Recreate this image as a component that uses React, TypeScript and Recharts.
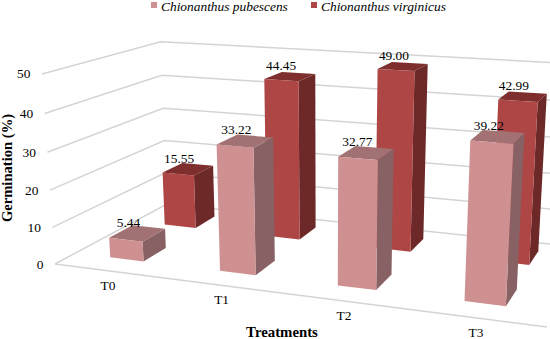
import { BarChart, Bar, XAxis, YAxis, CartesianGrid, Legend, LabelList } from "recharts";

const categories = ["T0", "T1", "T2", "T3"];
const pubescens = [5.44, 33.22, 32.77, 39.22];
const virginicus = [15.55, 44.45, 49.0, 42.99];
const yTicks = [0, 10, 20, 30, 40, 50];

const rows = categories.map((name, i) => ({
  name,
  pubescens: pubescens[i],
  virginicus: virginicus[i],
}));

const WIDTH = 550;
const HEIGHT = 339;
const FONT = '"Liberation Serif", "Times New Roman", serif';

// flat plot area the library lays out, gets bent into the 3D box below
const PLOT_LEFT = 50;
const PLOT_TOP = 20;
const PLOT_W = 450;
const PLOT_H = 300;
const LEGEND_H = 12;

const PINK = { front: "#CF9092", top: "#A27173", side: "#876164" };
const RED = { front: "#AD4645", top: "#7F2E2E", side: "#6D2828" };
const PINK_DEPTH = [0.16, 0.36];
const RED_DEPTH = [0.68, 0.88];
const PINK_SHIFT = -0.004;
const RED_SHIFT = -0.011;

// perspective camera: origin + three vanishing points
function project(u: number, v: number, w: number) {
  const su = -0.1387 * u;
  const sv = -0.04605 * v;
  const sw = 0.1795 * w;
  const d = 1 + su + sv + sw;
  return {
    x: (55 - 3000 * su + 324 * sv + 791 * sw) / d,
    y: (264 - 127 * su + 4200 * sv - 130 * sw) / d,
  };
}

const toU = (x: number) => (x - PLOT_LEFT) / PLOT_W;
const toV = (y: number) => (PLOT_TOP + PLOT_H - y) / PLOT_H;

function poly(points: { x: number; y: number }[]) {
  return points.map((p) => `${p.x.toFixed(1)},${p.y.toFixed(1)}`).join(" ");
}

function Box3D({ x, y, width, depth, shift, colors }: any) {
  const u0 = toU(x) + shift;
  const u1 = toU(x + width) + shift;
  const top = toV(y);
  const [w0, w1] = depth;
  const side = [project(u1, 0, w0), project(u1, 0, w1), project(u1, top, w1), project(u1, top, w0)];
  const lid = [project(u0, top, w0), project(u1, top, w0), project(u1, top, w1), project(u0, top, w1)];
  const front = [project(u0, 0, w0), project(u1, 0, w0), project(u1, top, w0), project(u0, top, w0)];
  return (
    <g>
      <polygon points={poly(side)} fill={colors.side} />
      <polygon points={poly(lid)} fill={colors.top} />
      <polygon points={poly(front)} fill={colors.front} />
    </g>
  );
}

function valueLabel(depth: number[], shift: number) {
  return (props: any) => {
    const { x, y, width, value } = props;
    const p = project(toU(x + width / 2) + shift, toV(y), (depth[0] + depth[1]) / 2);
    return (
      <text
        x={p.x - 9}
        y={p.y - 11}
        textAnchor="middle"
        dominantBaseline="central"
        fontFamily={FONT}
        fontSize={13.4}
        fill="#000"
      >
        {Number(value).toFixed(2)}
      </text>
    );
  };
}

function gridLine(props: any) {
  const v = toV(props.y1);
  const lines = [[project(0, v, 0), project(0, v, 1), project(1, v, 1)]];
  if (v < 0.001) lines.push([project(0, 0, 0), project(1, 0, 0)]);
  return (
    <g key={props.key}>
      {lines.map((pts, i) => (
        <polyline key={i} points={poly(pts)} fill="none" stroke="#D4D4D4" strokeWidth={1.5} />
      ))}
    </g>
  );
}

function YTick({ y, payload }: any) {
  const p = project(0, toV(y), 0);
  return (
    <text x={p.x - 11.5} y={p.y} textAnchor="end" dominantBaseline="central" fontFamily={FONT} fontSize={13.4} fill="#000">
      {payload.value}
    </text>
  );
}

function XTick({ x, payload }: any) {
  const p = project(toU(x), 0, 0);
  return (
    <text x={p.x - 1} y={p.y + 14.5} textAnchor="middle" dominantBaseline="central" fontFamily={FONT} fontSize={13.4} fill="#000">
      {payload.value}
    </text>
  );
}

function LegendRow() {
  const items = [
    { label: "Chionanthus pubescens", color: PINK.front, left: 150.5 },
    { label: "Chionanthus virginicus", color: RED.front, left: 310.5 },
  ];
  return (
    <div style={{ position: "relative", height: LEGEND_H }}>
      {items.map((it) => (
        <div key={it.label}>
          <span
            style={{ position: "absolute", left: it.left, top: 2, width: 6.5, height: 6, background: it.color }}
          />
          <span
            style={{
              position: "absolute",
              left: it.left + 10.5,
              top: -1,
              fontFamily: FONT,
              fontStyle: "italic",
              fontSize: 13.4,
              lineHeight: "15px",
              whiteSpace: "nowrap",
              color: "#000",
            }}
          >
            {it.label}
          </span>
        </div>
      ))}
    </div>
  );
}

export default function App() {
  return (
    <div style={{ position: "absolute", left: 0, top: 0, width: WIDTH, height: HEIGHT, background: "#fff" }}>
      <BarChart
        width={WIDTH}
        height={HEIGHT}
        data={rows}
        margin={{ top: PLOT_TOP - LEGEND_H, right: 50, bottom: 0, left: 20 }}
        barSize={35}
        barGap={-35}
      >
        <CartesianGrid vertical={false} horizontal={gridLine} />
        <XAxis dataKey="name" height={19} axisLine={false} tickLine={false} interval={0} tick={<XTick />} />
        <YAxis width={30} domain={[0, 50]} ticks={yTicks} axisLine={false} tickLine={false} tick={<YTick />} />
        <Legend
          verticalAlign="top"
          wrapperStyle={{ left: 0, top: 0, width: WIDTH }}
          content={() => <LegendRow />}
        />
        <Bar
          dataKey="virginicus"
          isAnimationActive={false}
          shape={(p: any) => <Box3D {...p} depth={RED_DEPTH} shift={RED_SHIFT} colors={RED} />}
        >
          <LabelList dataKey="virginicus" content={valueLabel(RED_DEPTH, RED_SHIFT)} />
        </Bar>
        <Bar
          dataKey="pubescens"
          isAnimationActive={false}
          shape={(p: any) => <Box3D {...p} depth={PINK_DEPTH} shift={PINK_SHIFT} colors={PINK} />}
        >
          <LabelList dataKey="pubescens" content={valueLabel(PINK_DEPTH, PINK_SHIFT)} />
        </Bar>
        <text x={282} y={332} textAnchor="middle" dominantBaseline="central" fontFamily={FONT} fontSize={14.8} fontWeight="bold">
          Treatments
        </text>
        <text
          x={7}
          y={168}
          transform="rotate(-90 7 168)"
          textAnchor="middle"
          dominantBaseline="central"
          fontFamily={FONT}
          fontSize={14.6}
          fontWeight="bold"
        >
          Germination (%)
        </text>
      </BarChart>
    </div>
  );
}
